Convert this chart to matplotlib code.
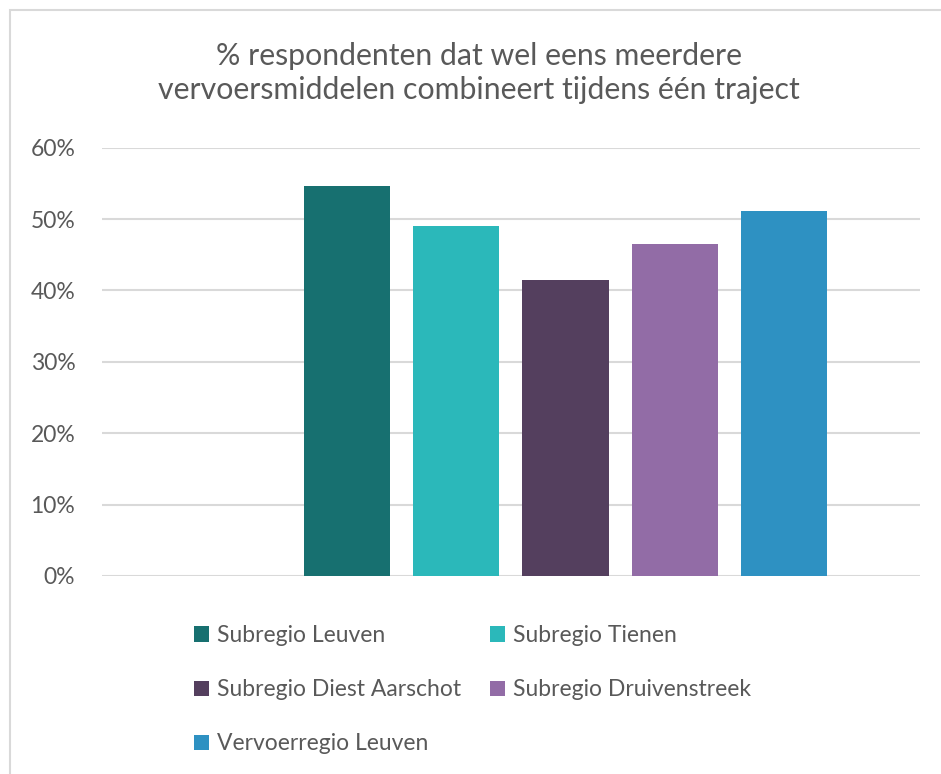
"""
Share of respondents who sometimes combine several modes of transport in one trip.
"""

import matplotlib.pyplot as plt
from matplotlib.patches import Rectangle
from matplotlib.ticker import PercentFormatter

plt.rcParams["font.family"] = ["Lato", "DejaVu Sans"]

TITLE = "% respondenten dat wel eens meerdere\nvervoersmiddelen combineert tijdens één traject"

series = [
    "Subregio Leuven",
    "Subregio Tienen",
    "Subregio Diest Aarschot",
    "Subregio Druivenstreek",
    "Vervoerregio Leuven",
]
values = [0.546, 0.491, 0.415, 0.465, 0.512]
colors = ["#177070", "#2bb8ba", "#543f5e", "#926ca6", "#2e91c2"]
y_ticks = [0.0, 0.1, 0.2, 0.3, 0.4, 0.5, 0.6]

GRID = "#d9d9d9"
TEXT = "#595959"


def main() -> None:
    W, H = 941, 774
    fig = plt.figure(figsize=(W / 100, H / 100), dpi=100)

    # chart-area border (only left and top edges fall inside the image)
    fig.patches.append(
        Rectangle((10 / W, -0.1), 1.2, 1 - 10 / H + 0.1, transform=fig.transFigure,
                  fill=False, edgecolor=GRID, linewidth=1.5)
    )

    left, right = 101.7 / W, 920 / W
    bottom, top = 1 - 576 / H, 1 - 147.7 / H
    ax = fig.add_axes([left, bottom, right - left, top - bottom])

    # first slot in the cluster is empty in the original chart
    handles = []
    for i, (name, v, c) in enumerate(zip(series, values, colors)):
        b = ax.bar(i + 1, v, width=0.79, color=c, label=name, zorder=3)
        handles.append(b)

    ax.set_xlim(-1.245, 6.245)
    ax.set_ylim(0, 0.6)
    ax.set_yticks(y_ticks)
    ax.yaxis.set_major_formatter(PercentFormatter(1.0, decimals=0))
    ax.set_xticks([])
    ax.grid(axis="y", color=GRID, linewidth=1.5, zorder=0)
    ax.tick_params(axis="y", length=0, pad=19, labelsize=16.5, labelcolor=TEXT)
    for s in ax.spines.values():
        s.set_visible(False)

    fig.text(0.509, 1 - 73 / H, TITLE, ha="center", va="center",
             fontsize=21.8, color=TEXT, linespacing=1.3)

    # legend is filled row by row in the original
    order = [0, 2, 4, 1, 3]
    fig.legend(
        [handles[i] for i in order],
        [series[i] for i in order],
        loc="upper left",
        bbox_to_anchor=(194 / W, 1 - 625 / H),
        ncol=2,
        frameon=False,
        fontsize=16.5,
        labelcolor=TEXT,
        handlelength=0.65,
        handleheight=0.65,
        handletextpad=0.35,
        labelspacing=1.45,
        columnspacing=1.25,
        borderpad=0,
        borderaxespad=0,
    )

    fig.savefig("out.png", dpi=100)
    plt.close(fig)


if __name__ == "__main__":
    main()
